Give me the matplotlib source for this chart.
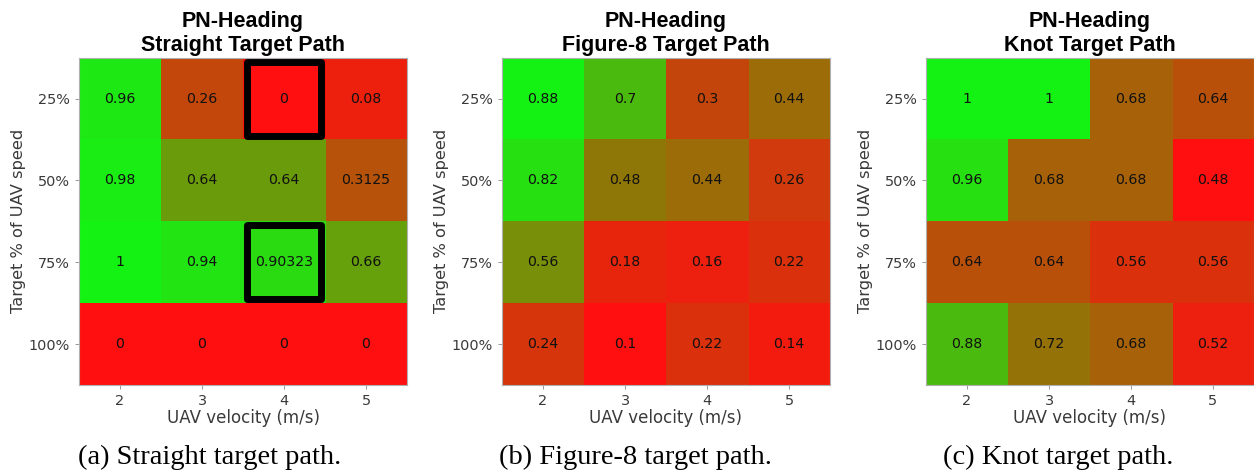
import matplotlib
matplotlib.use("Agg")
import matplotlib.pyplot as plt
from matplotlib.colors import LinearSegmentedColormap
from matplotlib.patches import Rectangle
import numpy as np

# data
velocities = ["2", "3", "4", "5"]
target_speeds = ["25%", "50%", "75%", "100%"]

straight = [[0.96, 0.26, 0, 0.08],
            [0.98, 0.64, 0.64, 0.3125],
            [1, 0.94, 0.90323, 0.66],
            [0, 0, 0, 0]]
figure8 = [[0.88, 0.7, 0.3, 0.44],
           [0.82, 0.48, 0.44, 0.26],
           [0.56, 0.18, 0.16, 0.22],
           [0.24, 0.1, 0.22, 0.14]]
knot = [[1, 1, 0.68, 0.64],
        [0.96, 0.68, 0.68, 0.48],
        [0.64, 0.64, 0.56, 0.56],
        [0.88, 0.72, 0.68, 0.52]]

panels = [
    ("PN-Heading\nStraight Target Path", straight, "(a) Straight target path.", [(0, 2), (2, 2)]),
    ("PN-Heading\nFigure-8 Target Path", figure8, "(b) Figure-8 target path.", []),
    ("PN-Heading\nKnot Target Path", knot, "(c) Knot target path.", []),
]

# red -> olive -> green, scaled per panel like MATLAB heatmap
cmap = LinearSegmentedColormap.from_list(
    "rg", [(1.0, 0.06, 0.06), (0.55, 0.48, 0.03), (0.08, 0.95, 0.08)])

fig = plt.figure(figsize=(12.54, 4.74), dpi=100)
lefts = [0.063, 0.4003, 0.7384]
caption_x = [0.1675, 0.5064, 0.8437]
w, h, b = 0.2616, 0.690, 0.188
txt_gray = "#3a3a3a"

for left, cx, (title, data, caption, boxes) in zip(lefts, caption_x, panels):
    ax = fig.add_axes([left, b, w, h])
    arr = np.array(data, dtype=float)
    ax.imshow(arr, cmap=cmap, vmin=arr.min(), vmax=arr.max(), aspect="auto",
              interpolation="nearest")
    for i in range(arr.shape[0]):
        for j in range(arr.shape[1]):
            ax.text(j, i, f"{arr[i, j]:.5g}", ha="center", va="center",
                    fontsize=10.2, color="#111111")
    for (i, j) in boxes:
        d = 0.045
        ax.add_patch(Rectangle((j - 0.5 + d, i - 0.5 + d), 1 - 2 * d, 1 - 2 * d,
                               fill=False, edgecolor="black", linewidth=5,
                               joinstyle="round"))
    ax.set_xticks(range(len(velocities)))
    ax.set_xticklabels(velocities)
    ax.set_yticks(range(len(target_speeds)))
    ax.set_yticklabels(target_speeds)
    ax.tick_params(colors="#888888", labelcolor=txt_gray, labelsize=10.4,
                   length=3, width=0.6)
    ax.set_xlabel("UAV velocity (m/s)", fontsize=12, color=txt_gray, labelpad=1)
    ax.set_ylabel("Target % of UAV speed", fontsize=11.7, color=txt_gray, labelpad=2)
    ax.set_title(title, fontsize=15.5, fontweight="bold", family="Liberation Sans",
                 pad=5, linespacing=1.15)
    for sp in ax.spines.values():
        sp.set_color("#b0b0b0")
        sp.set_linewidth(0.8)
    fig.text(cx, 0.034, caption, ha="center", va="center",
             fontsize=20.5, family="Liberation Serif")

fig.savefig("out.png", dpi=100)
